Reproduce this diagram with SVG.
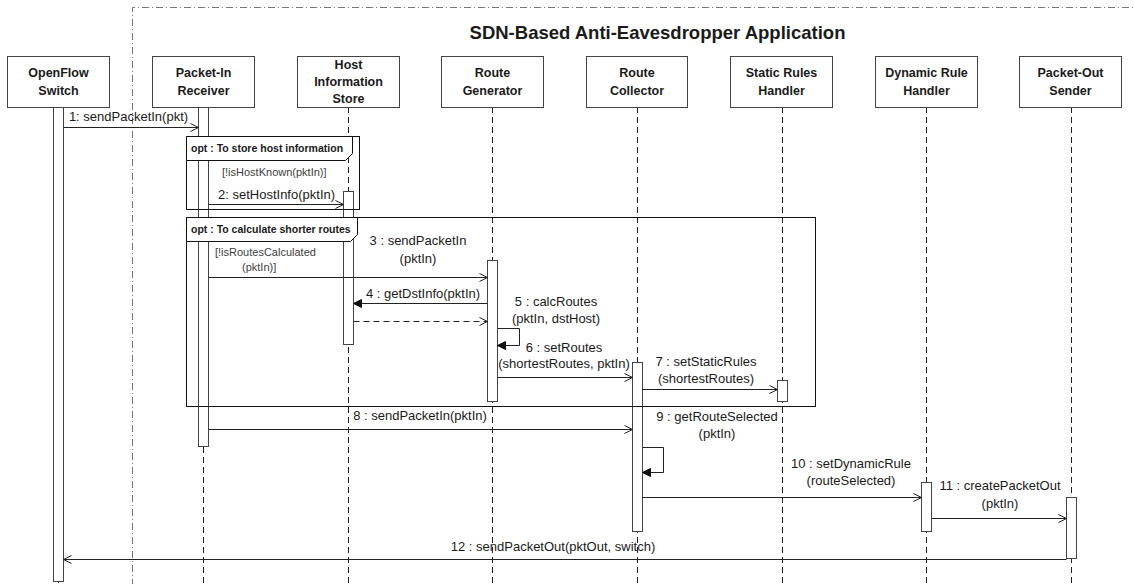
<svg xmlns="http://www.w3.org/2000/svg" width="1134" height="584" viewBox="0 0 1134 584">
  <defs>
    <style>
      text { font-family: "Liberation Sans", Arial, sans-serif; fill: #1a1a1a; }
      .title { font-size: 18.5px; font-weight: bold; text-anchor: middle; }
      .head rect { fill: #fff; stroke: #444; stroke-width: 1; }
      .head text { font-size: 12.5px; font-weight: bold; text-anchor: middle; }
      .life { stroke: #222; stroke-width: 1; stroke-dasharray: 6 4; fill: none; }
      .bar { fill: #fff; stroke: #333; stroke-width: 1; }
      .frame { fill: none; stroke: #111; stroke-width: 1; }
      .tab { fill: #fff; stroke: #111; stroke-width: 1; }
      .tabtext { font-size: 10.5px; font-weight: bold; }
      .guard { font-size: 11px; fill: #404040; }
      .msg { font-size: 13px; }
      .mid { text-anchor: middle; }
      .call { stroke: #222; stroke-width: 1; fill: none; marker-end: url(#open); }
      .sync { stroke: #222; stroke-width: 1; fill: none; marker-end: url(#filled); }
      .reply { stroke: #222; stroke-width: 1; fill: none; stroke-dasharray: 6 4; marker-end: url(#open); }
      .boundary { fill: none; stroke: #777; stroke-width: 1; stroke-dasharray: 7 3 1 3; }
    </style>
    <marker id="open" markerUnits="userSpaceOnUse" markerWidth="10" markerHeight="10" refX="9" refY="5" orient="auto">
      <path d="M1,1 L9,5 L1,9" fill="none" stroke="#222" stroke-width="1"/>
    </marker>
    <marker id="filled" markerUnits="userSpaceOnUse" markerWidth="10" markerHeight="10" refX="9" refY="5" orient="auto">
      <path d="M1,1 L9,5 L1,9 Z" fill="#111" stroke="#111" stroke-width="1"/>
    </marker>
  </defs>

  <rect width="1134" height="584" fill="#fff"/>

  <!-- application boundary -->
  <g id="application-boundary">
    <path class="boundary" d="M132.5,600 V7.5 H1140"/>
    <text class="title" x="657.5" y="39">SDN-Based Anti-Eavesdropper Application</text>
  </g>

  <!-- lifelines -->
  <g id="lifelines">
    <line class="life" x1="58.5" y1="107" x2="58.5" y2="584"/>
    <line class="life" x1="203.5" y1="107" x2="203.5" y2="584"/>
    <line class="life" x1="348.5" y1="107" x2="348.5" y2="584"/>
    <line class="life" x1="492.5" y1="107" x2="492.5" y2="584"/>
    <line class="life" x1="637.5" y1="107" x2="637.5" y2="584"/>
    <line class="life" x1="782.5" y1="107" x2="782.5" y2="584"/>
    <line class="life" x1="926.5" y1="107" x2="926.5" y2="584"/>
    <line class="life" x1="1071.5" y1="107" x2="1071.5" y2="584"/>
  </g>

  <!-- participants -->
  <g id="openflow-switch" class="head">
    <rect x="7.5" y="56.5" width="102" height="51"/>
    <text x="58.5" y="77">OpenFlow</text>
    <text x="58.5" y="95">Switch</text>
    <rect class="bar" x="53.5" y="107.5" width="10" height="474"/>
  </g>
  <g id="packet-in-receiver" class="head">
    <rect x="152.5" y="56.5" width="102" height="51"/>
    <text x="203.5" y="77">Packet-In</text>
    <text x="203.5" y="95">Receiver</text>
    <rect class="bar" x="198.5" y="107.5" width="10" height="339"/>
  </g>
  <g id="host-information-store" class="head">
    <rect x="297.5" y="56.5" width="102" height="51"/>
    <text x="348.5" y="69">Host</text>
    <text x="348.5" y="86">Information</text>
    <text x="348.5" y="103">Store</text>
    <rect class="bar" x="343.5" y="191.5" width="10" height="153"/>
  </g>
  <g id="route-generator" class="head">
    <rect x="441.5" y="56.5" width="102" height="51"/>
    <text x="492.5" y="77">Route</text>
    <text x="492.5" y="95">Generator</text>
    <rect class="bar" x="487.5" y="260.5" width="10" height="141"/>
  </g>
  <g id="route-collector" class="head">
    <rect x="586.5" y="56.5" width="101" height="51"/>
    <text x="637" y="77">Route</text>
    <text x="637" y="95">Collector</text>
    <rect class="bar" x="632.5" y="362.5" width="10" height="169"/>
  </g>
  <g id="static-rules-handler" class="head">
    <rect x="730.5" y="56.5" width="102" height="51"/>
    <text x="781.5" y="77">Static Rules</text>
    <text x="781.5" y="95">Handler</text>
    <rect class="bar" x="777.5" y="380.5" width="10" height="21"/>
  </g>
  <g id="dynamic-rule-handler" class="head">
    <rect x="875.5" y="56.5" width="102" height="51"/>
    <text x="926.5" y="77">Dynamic Rule</text>
    <text x="926.5" y="95">Handler</text>
    <rect class="bar" x="921.5" y="482.5" width="10" height="49"/>
  </g>
  <g id="packet-out-sender" class="head">
    <rect x="1019.5" y="56.5" width="102" height="51"/>
    <text x="1070.5" y="77">Packet-Out</text>
    <text x="1070.5" y="95">Sender</text>
    <rect class="bar" x="1066.5" y="497.5" width="10" height="61"/>
  </g>

  <!-- combined fragments -->
  <g id="opt-store-host">
    <rect class="frame" x="186.5" y="136.5" width="173" height="73"/>
    <path class="tab" d="M186.5,136.5 H352.5 V153.5 L345.5,160.5 H186.5 Z"/>
    <text class="tabtext" x="191" y="152">opt : To store host information</text>
    <text class="guard" x="222" y="176">[!isHostKnown(pktIn)]</text>
  </g>
  <g id="opt-calc-routes">
    <rect class="frame" x="186.5" y="217.5" width="629" height="189"/>
    <path class="tab" d="M186.5,217.5 H357.5 V234.5 L350.5,241.5 H186.5 Z"/>
    <text class="tabtext" x="191" y="233">opt : To calculate shorter routes</text>
    <text class="guard" x="215" y="256">[!isRoutesCalculated</text>
    <text class="guard" x="242" y="271">(pktIn)]</text>
  </g>

  <!-- messages -->
  <g id="connectors">
    <line class="call" x1="63.5" y1="127.5" x2="198.5" y2="127.5"/>
    <line class="call" x1="208.5" y1="204.5" x2="343.5" y2="204.5"/>
    <line class="call" x1="208.5" y1="277.5" x2="487.5" y2="277.5"/>
    <line class="sync" x1="487.5" y1="303.5" x2="353.5" y2="303.5"/>
    <line class="reply" x1="353.5" y1="321.5" x2="487.5" y2="321.5"/>
    <path class="sync" d="M497.5,328.5 H519.5 V345.5 H497.5"/>
    <line class="call" x1="497.5" y1="377.5" x2="632.5" y2="377.5"/>
    <line class="call" x1="642.5" y1="389.5" x2="777.5" y2="389.5"/>
    <line class="call" x1="208.5" y1="429.5" x2="632.5" y2="429.5"/>
    <path class="sync" d="M642.5,447.5 H663.5 V472.5 H642.5"/>
    <line class="call" x1="642.5" y1="497.5" x2="921.5" y2="497.5"/>
    <line class="call" x1="931.5" y1="518.5" x2="1066.5" y2="518.5"/>
    <line class="call" x1="1066.5" y1="559.5" x2="63.5" y2="559.5"/>
  </g>

  <!-- message labels -->
  <g id="message-labels">
    <text class="msg mid" x="128.5" y="121">1: sendPacketIn(pkt)</text>
    <text class="msg" x="218" y="199">2: setHostInfo(pktIn)</text>
    <text class="msg mid" x="418" y="245">3 : sendPacketIn</text>
    <text class="msg mid" x="418" y="263">(pktIn)</text>
    <text class="msg mid" x="423" y="298">4 : getDstInfo(pktIn)</text>
    <text class="msg mid" x="556" y="306">5 : calcRoutes</text>
    <text class="msg mid" x="556" y="323">(pktIn, dstHost)</text>
    <text class="msg mid" x="564" y="352">6 : setRoutes</text>
    <text class="msg mid" x="564" y="368">(shortestRoutes, pktIn)</text>
    <text class="msg mid" x="706" y="366">7 : setStaticRules</text>
    <text class="msg mid" x="706" y="383">(shortestRoutes)</text>
    <text class="msg mid" x="420" y="420">8 : sendPacketIn(pktIn)</text>
    <text class="msg mid" x="717" y="421">9 : getRouteSelected</text>
    <text class="msg mid" x="717" y="438">(pktIn)</text>
    <text class="msg mid" x="851" y="468">10 : setDynamicRule</text>
    <text class="msg mid" x="851" y="485">(routeSelected)</text>
    <text class="msg mid" x="1000" y="490">11 : createPacketOut</text>
    <text class="msg mid" x="1000" y="508">(pktIn)</text>
    <text class="msg mid" x="553" y="551">12 : sendPacketOut(pktOut, switch)</text>
  </g>
</svg>
